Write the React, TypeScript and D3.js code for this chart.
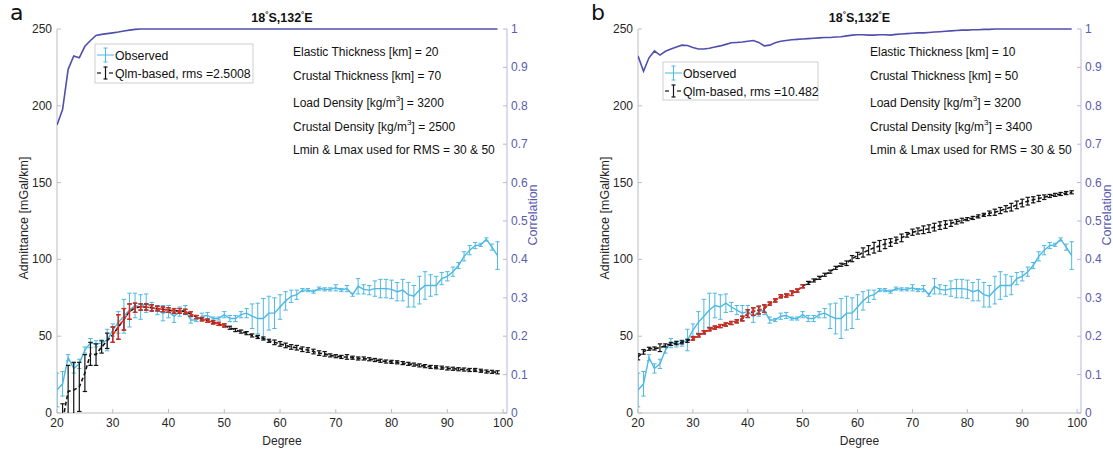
import React from 'react';
import * as d3 from 'd3';

// ---------- data ----------
const degrees = d3.range(20, 100);

const observed = [
  15, 19, 36, 29, 32, 41, 45.5, 45, 45.5, 47.5,
  54, 59, 63, 67, 70, 69, 71.5, 69, 67, 65,
  66, 63, 66, 67, 60.5, 60.5, 63, 63.5, 61.5, 61.5,
  64, 61.5, 61.5, 64, 65, 63, 61.5, 61.5, 65, 65,
  69, 73, 76, 77, 80, 80, 79, 81, 80.5, 80.5,
  81.5, 80, 81, 77, 82.5, 80.5, 80, 81, 81, 81,
  80.5, 79, 80, 77, 76, 80, 83, 83, 83, 87.5,
  89, 92, 96, 102, 106, 109, 109.5, 113, 108, 102.5,
];
const observedErr = [
  11, 8, 2, 3, 3, 2, 3, 2, 2, 7,
  4, 7, 11, 11, 8, 8, 6, 3, 3, 5,
  4, 4, 3, 3, 2, 1, 2, 2, 1, 1,
  2, 2, 2, 2, 3, 8, 10, 13, 11, 10,
  8, 6, 4, 3, 1, 1, 1, 1, 1, 1,
  2, 1, 2, 1, 5, 3, 3, 5, 6, 6,
  6, 6, 7, 8, 7, 9, 9, 7, 6, 4,
  3, 3, 2, 3, 3, 2, 1, 1, 2, 9,
];

const modelA = [
  -20, -5, 14, 15, 17, 26, 38.5, 38, 43, 47,
  51, 56, 61, 66, 68.5, 69, 69, 68.5, 68, 67.5,
  67, 66.5, 66.5, 66, 64.5, 62.5, 61, 60, 59, 58,
  57, 55.5, 54, 53, 52, 50.5, 49.5, 48.5, 47, 46,
  45, 44, 43, 42.5, 41.5, 41, 40, 39, 38.5, 37.5,
  37, 36.5, 36.5, 36, 35.5, 35.5, 35, 34.5, 34, 33.5,
  33.3, 33, 32.5, 32, 31.5, 31, 30.5, 30, 29.8, 29.5,
  29, 28.8, 28.5, 28.3, 28, 28, 27.5, 27, 26.8, 26.5,
];
const modelAErr = [
  10, 11, 17, 18, 16, 12, 7.5, 7, 4, 5,
  5, 8, 7, 5, 3, 2, 2, 2, 1.5, 1.5,
  1.5, 1.5, 1.5, 1.5, 1.5, 1, 1, 1, 1, 1,
  1, 1, 1, 1, 1, 1, 1, 1, 1, 1.5,
  1.5, 1.5, 1.5, 1.5, 1.5, 1.5, 1.5, 1.5, 1.5, 1,
  1, 1, 1.5, 1, 1, 1, 1, 1, 1, 1,
  1, 1, 1, 1, 1, 1, 1, 1, 1, 1,
  1, 1, 1, 1, 1, 1, 1, 1, 1, 1,
];

const modelB = [
  36.6, 39.8, 41.8, 42, 42.5, 44, 45, 45.5, 46, 47,
  48.5, 50.5, 52.5, 54.5, 55.6, 56.6, 57.6, 58.6, 59.7, 61.5,
  64.7, 66, 67, 68, 71.2, 73.3, 76, 76.5, 78, 79.7,
  82.5, 84.7, 86.3, 88, 90, 92, 94.5, 96.5, 97.5, 100.5,
  102.6, 104.5, 106, 107.6, 108.8, 110, 111, 112.5, 114, 116,
  117.7, 118.5, 119.3, 120, 121, 122, 122.7, 123.5, 124.5, 125.3,
  126.2, 127, 128, 129, 130, 130.7, 131.8, 133, 134, 135.5,
  136.7, 137.9, 138.8, 139.7, 140.5, 141.3, 142, 142.6, 143.2, 143.7,
];
const modelBErr = [
  2, 1.5, 1, 1, 2.5, 1, 1, 1, 1, 1,
  1, 1, 1, 1, 1, 1, 1, 1, 1, 1.5,
  2.5, 2.5, 2.5, 2.5, 1, 1, 1, 1, 1.5, 1,
  1, 1, 1, 1, 1, 1, 1, 1, 1.5, 2,
  2, 3, 3, 3.5, 3.5, 3, 2.5, 2, 2.5, 1.5,
  2, 2, 2.5, 2.5, 2.5, 2.5, 2.5, 2, 1.5, 1.5,
  1, 1, 1, 1, 1.5, 2, 2, 2, 2.5, 2.5,
  2.5, 2.5, 2, 2, 1.5, 1, 1, 1, 1, 1,
];

const corrA = [
  0.75, 0.79, 0.895, 0.93, 0.925, 0.955, 0.97, 0.983, 0.986, 0.988,
  0.99, 0.992, 0.995, 0.997, 0.999, 1, 1, 1, 1, 1,
  1, 1, 1, 1, 1, 1, 1, 1, 1, 1,
  1, 1, 1, 1, 1, 1, 1, 1, 1, 1,
  1, 1, 1, 1, 1, 1, 1, 1, 1, 1,
  1, 1, 1, 1, 1, 1, 1, 1, 1, 1,
  1, 1, 1, 1, 1, 1, 1, 1, 1, 1,
  1, 1, 1, 1, 1, 1, 1, 1, 1, 1,
];
const corrB = [
  0.93, 0.89, 0.925, 0.943, 0.932, 0.942, 0.948, 0.953, 0.958, 0.957,
  0.952, 0.948, 0.948, 0.95, 0.953, 0.956, 0.96, 0.964, 0.965, 0.966,
  0.968, 0.97, 0.965, 0.956, 0.958, 0.964, 0.968, 0.97, 0.972, 0.973,
  0.974, 0.975, 0.976, 0.977, 0.978, 0.978, 0.979, 0.98, 0.982, 0.984,
  0.985, 0.985, 0.984, 0.984, 0.985, 0.985, 0.984, 0.986, 0.987, 0.988,
  0.989, 0.99, 0.99, 0.991, 0.992, 0.993, 0.994, 0.995, 0.996, 0.997,
  0.997, 0.998, 0.998, 0.999, 0.999, 1, 1, 1, 1, 1,
  1, 1, 1, 1, 1, 1, 1, 1, 1, 1,
];

const xTicks = [20, 30, 40, 50, 60, 70, 80, 90, 100];
const yTicks = [0, 50, 100, 150, 200, 250];
const corrTicks = [0, 0.1, 0.2, 0.3, 0.4, 0.5, 0.6, 0.7, 0.8, 0.9, 1];
const rmsRange = [30, 50];

const notesA = ['20', '70', '3200', '2500', '30 & 50'];
const notesB = ['10', '50', '3200', '3400', '30 & 50'];

// ---------- styles ----------
const FONT = '"Liberation Sans", Arial, Helvetica, sans-serif';
const CYAN = '#4db8e4';
const RED = '#e8291f';
const BLACK = '#141414';
const CORR = '#4f4fae';
const CORR_AXIS = '#5a5aae';
const TXT = '#262626';

type PanelProps = {
  letter: string;
  x0: number;
  x1: number;
  model: number[];
  modelErr: number[];
  corr: number[];
  rms: string;
  notes: string[];
  notesX: number;
  legend: { x: number; y: number; w: number; h: number };
};

function ErrorBars({ xs, ys, es, x, y, color, cap = 2.2, width = 1 }: any) {
  return (
    <g stroke={color} strokeWidth={width} fill="none">
      {xs.map((d: number, i: number) => {
        const px = x(d);
        const yt = y(ys[i] + es[i]);
        const yb = y(ys[i] - es[i]);
        return (
          <g key={i}>
            <line x1={px} x2={px} y1={yt} y2={yb} />
            <line x1={px - cap} x2={px + cap} y1={yt} y2={yt} />
            <line x1={px - cap} x2={px + cap} y1={yb} y2={yb} />
          </g>
        );
      })}
    </g>
  );
}

function Panel(p: PanelProps) {
  const top = 29;
  const bottom = 413;
  const x = d3.scaleLinear().domain([20, 100.7]).range([p.x0, p.x1]);
  const y = d3.scaleLinear().domain([0, 250]).range([bottom, top]);
  const yc = d3.scaleLinear().domain([0, 1]).range([bottom, top]);
  const line = d3
    .line<number>()
    .x((_, i) => x(degrees[i]))
    .y((d) => y(d));
  const corrLine = d3
    .line<number>()
    .x((_, i) => x(degrees[i]))
    .y((d) => yc(d));

  const redIdx = degrees
    .map((d, i) => i)
    .filter((i) => degrees[i] >= rmsRange[0] && degrees[i] <= rmsRange[1]);
  const redDeg = redIdx.map((i) => degrees[i]);
  const redVal = redIdx.map((i) => p.model[i]);
  const redErr = redIdx.map((i) => p.modelErr[i]);
  const redLine = d3
    .line<number>()
    .x((_, k) => x(redDeg[k]))
    .y((d) => y(d));

  const clipId = 'clip' + p.letter;
  const cx = (p.x0 + p.x1) / 2;
  const noteY = [52, 76, 103, 127, 150];
  const L = p.legend;

  return (
    <g fontFamily={FONT}>
      <defs>
        <clipPath id={clipId}>
          <rect x={p.x0} y={top - 5} width={p.x1 - p.x0} height={bottom - top + 5} />
        </clipPath>
      </defs>
      {/* panel letter */}
      <text x={p.x0 - 47} y={20} fontSize={22} fill="#111" fontFamily='"DejaVu Sans", sans-serif'>
        {p.letter}
      </text>
      {/* title */}
      <text x={cx} y={22} fontSize={12.5} fontWeight="bold" textAnchor="middle" fill="#111">
        18
        <tspan fontSize={8} dy={-5}>°</tspan>
        <tspan dy={5}>S,132</tspan>
        <tspan fontSize={8} dy={-5}>°</tspan>
        <tspan dy={5}>E</tspan>
      </text>

      {/* axes */}
      <line x1={p.x0} x2={p.x0} y1={top} y2={bottom} stroke="#bdbdbd" strokeWidth={1} />
      <line x1={p.x0} x2={p.x1} y1={bottom} y2={bottom} stroke="#bdbdbd" strokeWidth={1} />
      <line x1={p.x1} x2={p.x1} y1={top} y2={bottom} stroke="#b8b8dc" strokeWidth={1} />
      {xTicks.map((t) => (
        <g key={'x' + t}>
          <line x1={x(t)} x2={x(t)} y1={bottom} y2={bottom - 4} stroke="#bdbdbd" />
          <text x={x(t)} y={427} fontSize={12} textAnchor="middle" fill={TXT}>
            {t}
          </text>
        </g>
      ))}
      {yTicks.map((t) => (
        <g key={'y' + t}>
          <line x1={p.x0} x2={p.x0 + 4} y1={y(t)} y2={y(t)} stroke="#bdbdbd" />
          <text x={p.x0 - 5} y={y(t) + 4} fontSize={12} textAnchor="end" fill={TXT}>
            {t}
          </text>
        </g>
      ))}
      {corrTicks.map((t) => (
        <g key={'c' + t}>
          <line x1={p.x1} x2={p.x1 - 4} y1={yc(t)} y2={yc(t)} stroke="#b8b8dc" />
          <text x={p.x1 + 4} y={yc(t) + 4} fontSize={12} fill={CORR_AXIS}>
            {t}
          </text>
        </g>
      ))}
      <text x={cx} y={445} fontSize={12} textAnchor="middle" fill={TXT}>
        Degree
      </text>
      <text
        transform={`translate(${p.x0 - 29},${218}) rotate(-90)`}
        fontSize={12.5}
        textAnchor="middle"
        fill={TXT}
      >
        Admittance [mGal/km]
      </text>
      <text
        transform={`translate(${p.x1 + 30},${215}) rotate(-90)`}
        fontSize={12.5}
        textAnchor="middle"
        fill={CORR_AXIS}
      >
        Correlation
      </text>

      <g clipPath={`url(#${clipId})`}>
        {/* correlation */}
        <path d={corrLine(p.corr) || ''} fill="none" stroke={CORR} strokeWidth={1.6} />
        {/* observed */}
        <ErrorBars xs={degrees} ys={observed} es={observedErr} x={x} y={y} color={CYAN} />
        <path d={line(observed) || ''} fill="none" stroke={CYAN} strokeWidth={1.4} />
        {/* model */}
        <ErrorBars xs={degrees} ys={p.model} es={p.modelErr} x={x} y={y} color={BLACK} width={1.2} />
        <path d={line(p.model) || ''} fill="none" stroke={BLACK} strokeWidth={1.6} strokeDasharray="4,2.5" />
        <ErrorBars xs={redDeg} ys={redVal} es={redErr} x={x} y={y} color={RED} width={1.2} />
        <path d={redLine(redVal) || ''} fill="none" stroke={RED} strokeWidth={1.6} strokeDasharray="4,2.5" />
      </g>

      {/* legend */}
      <rect x={L.x} y={L.y} width={L.w} height={L.h} fill="white" stroke="#c4c4c4" strokeWidth={0.8} />
      <g stroke={CYAN} strokeWidth={1}>
        <line x1={L.x + 2} x2={L.x + 19} y1={L.y + 11} y2={L.y + 11} />
        <line x1={L.x + 10.5} x2={L.x + 10.5} y1={L.y + 4} y2={L.y + 18} />
        <line x1={L.x + 8.5} x2={L.x + 12.5} y1={L.y + 4} y2={L.y + 4} />
        <line x1={L.x + 8.5} x2={L.x + 12.5} y1={L.y + 18} y2={L.y + 18} />
      </g>
      <g stroke={BLACK} strokeWidth={1.2}>
        <line x1={L.x + 2} x2={L.x + 6} y1={L.y + 29} y2={L.y + 29} />
        <line x1={L.x + 14} x2={L.x + 18} y1={L.y + 29} y2={L.y + 29} />
        <line x1={L.x + 10.5} x2={L.x + 10.5} y1={L.y + 23} y2={L.y + 35} />
        <line x1={L.x + 8.5} x2={L.x + 12.5} y1={L.y + 23} y2={L.y + 23} />
        <line x1={L.x + 8.5} x2={L.x + 12.5} y1={L.y + 35} y2={L.y + 35} />
      </g>
      <text x={L.x + 20} y={L.y + 15.5} fontSize={12.3} fill="#111">
        Observed
      </text>
      <text x={L.x + 20} y={L.y + 33.5} fontSize={12.3} fill="#111">
        {'Qlm-based, rms =' + p.rms}
      </text>

      {/* parameter notes */}
      <g fontSize={12} fill="#111">
        <text x={p.notesX} y={noteY[0] + 4}>{'Elastic Thickness [km] = ' + p.notes[0]}</text>
        <text x={p.notesX} y={noteY[1] + 4}>{'Crustal Thickness [km] = ' + p.notes[1]}</text>
        <text x={p.notesX} y={noteY[2] + 4}>
          {'Load Density [kg/m'}
          <tspan fontSize={8} dy={-6}>3</tspan>
          <tspan dy={6}>{'] = ' + p.notes[2]}</tspan>
        </text>
        <text x={p.notesX} y={noteY[3] + 4}>
          {'Crustal Density [kg/m'}
          <tspan fontSize={8} dy={-6}>3</tspan>
          <tspan dy={6}>{'] = ' + p.notes[3]}</tspan>
        </text>
        <text x={p.notesX} y={noteY[4] + 4}>{'Lmin & Lmax used for RMS = ' + p.notes[4]}</text>
      </g>
    </g>
  );
}

export default function App() {
  return (
    <svg
      width={1113}
      height={450}
      style={{ position: 'absolute', left: 0, top: 0, background: 'white' }}
    >
      <rect width={1113} height={450} fill="white" />
      <Panel
        letter="a"
        x0={57}
        x1={507}
        model={modelA}
        modelErr={modelAErr}
        corr={corrA}
        rms="2.5008"
        notes={notesA}
        notesX={293}
        legend={{ x: 95, y: 44, w: 158, h: 39 }}
      />
      <Panel
        letter="b"
        x0={638}
        x1={1081}
        model={modelB}
        modelErr={modelBErr}
        corr={corrB}
        rms="10.482"
        notes={notesB}
        notesX={870}
        legend={{ x: 663, y: 62, w: 155, h: 38 }}
      />
    </svg>
  );
}
